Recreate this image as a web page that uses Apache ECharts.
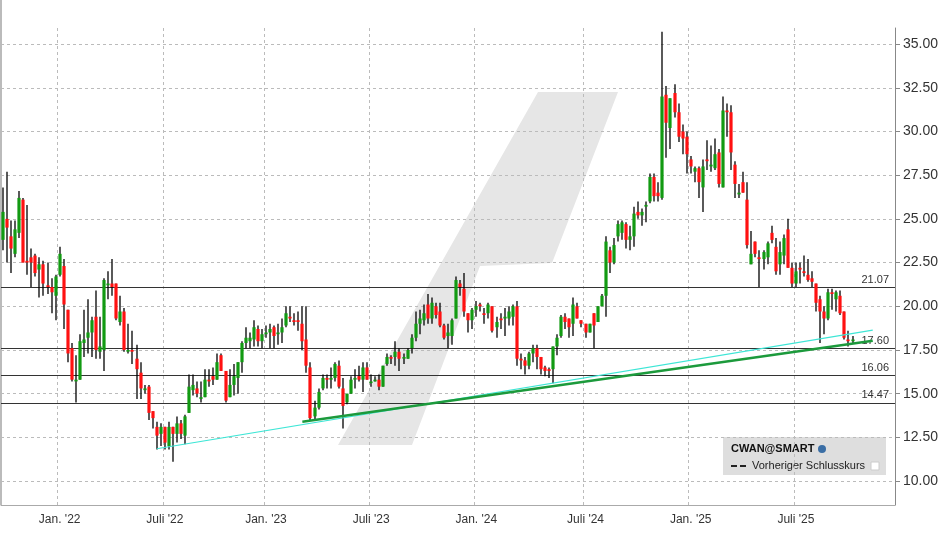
<!DOCTYPE html>
<html><head><meta charset="utf-8">
<script src="https://cdn.jsdelivr.net/npm/echarts@6/dist/echarts.min.js"></script>
<style>html,body{margin:0;padding:0;background:#fff}#c{width:948px;height:534px}</style>
</head><body><div id="c"></div>
<script>
// weekly candles: [open, close, high, low]
const candles = [
[23.8,25.4,26.8,23.2],[25.0,24.5,27.7,22.5],[24.0,23.3,24.9,21.9],[23.0,24.4,24.9,22.8],[24.2,26.2,26.6,23.9],
[26.1,22.5,26.2,22.5],[22.6,22.5,25.8,21.8],[22.8,22.5,23.3,21.1],[22.9,21.9,23.0,21.7],[22.1,22.4,22.8,20.5],
[22.4,21.3,22.6,20.6],[21.2,21.1,22.5,20.7],[21.1,20.8,21.6,19.6],[20.6,21.7,21.8,19.2],[21.8,23.0,23.4,21.7],
[22.3,20.1,22.7,18.7],[19.8,17.3,19.8,16.8],[17.6,15.8,17.9,15.7],[15.7,15.8,17.2,14.5],[15.8,18.0,18.4,15.8],
[17.9,18.1,19.8,17.1],[18.2,18.5,20.4,17.3],[18.5,19.2,19.4,17.1],[19.4,17.5,20.9,17.0],[17.4,17.7,19.4,17.0],
[17.5,21.5,21.6,16.3],[21.2,21.3,22.0,20.4],[21.3,21.1,22.7,20.6],[21.3,19.3,21.3,19.2],[19.1,19.7,20.6,18.9],
[19.7,17.5,19.9,17.4],[17.4,17.5,19.0,17.3],[17.5,17.4,18.6,16.7],[17.0,16.4,17.8,14.7],[16.2,15.3,16.8,14.7],
[15.2,15.3,15.5,15.0],[15.4,13.9,15.5,13.5],[14.0,13.6,14.0,13.0],[13.1,12.6,13.4,11.8],[12.7,13.1,13.3,12.0],
[13.1,12.2,13.1,11.8],[12.0,13.1,13.4,11.8],[13.1,12.7,13.1,11.1],[12.7,13.3,13.7,12.2],[13.3,12.7,13.5,12.4],
[12.6,13.7,13.8,12.1],[13.9,15.4,16.1,13.9],[15.2,15.5,16.1,14.9],[15.3,15.0,15.7,14.8],[14.7,14.8,15.7,14.5],
[14.8,15.8,16.4,14.8],[15.8,15.7,16.4,15.4],[16.0,15.8,16.5,15.5],[15.8,16.8,17.3,15.8],[17.2,16.3,17.3,16.3],
[16.3,14.6,16.3,14.5],[14.8,15.5,16.4,14.8],[15.5,16.0,16.7,14.9],[15.9,16.8,16.8,15.0],[16.8,17.9,18.0,16.2],
[17.9,18.2,18.8,17.6],[18.0,18.2,18.5,17.6],[18.1,18.8,19.2,17.7],[18.7,18.0,18.9,17.7],[18.0,18.4,18.7,17.6],
[18.4,18.5,18.9,18.2],[18.5,18.7,19.0,17.6],[18.8,18.3,18.9,17.6],[18.4,18.5,19.0,17.8],[18.5,18.8,19.3,17.9],
[18.9,19.6,20.0,18.8],[19.4,19.3,20.0,19.1],[19.2,19.1,19.6,18.9],[19.2,19.1,19.7,18.6],[19.0,18.0,20.0,17.5],
[18.1,16.6,20.0,16.2],[16.5,13.6,16.8,13.5],[13.7,14.2,14.6,13.5],[14.2,15.1,15.3,14.1],[15.3,15.9,16.1,15.2],
[15.9,15.8,16.1,15.3],[15.8,15.9,16.5,15.3],[15.9,16.7,16.8,15.7],[16.6,15.4,16.9,15.3],[15.3,14.3,15.9,13.0],
[14.5,15.0,15.0,14.4],[15.0,15.8,16.0,15.0],[15.8,15.9,16.4,15.3],[16.0,15.8,16.6,15.7],[15.8,16.5,16.8,15.1],
[16.5,15.8,16.8,15.8],[15.6,15.7,16.1,15.4],[15.7,15.8,16.0,15.7],[15.8,15.4,16.1,15.2],[15.4,16.6,16.6,15.4],
[16.7,17.1,17.3,16.6],[17.1,17.0,17.2,16.7],[17.1,17.4,18.0,16.6],[17.4,17.0,17.6,16.3],[17.0,17.1,17.3,16.7],
[17.0,17.5,17.6,17.0],[17.6,18.2,18.4,17.3],[18.2,19.0,19.7,18.0],[19.0,19.3,19.8,18.4],[19.2,19.6,20.1,18.9],
[20.1,19.3,20.7,19.0],[19.3,20.2,20.5,19.0],[20.0,19.5,20.2,19.3],[19.7,18.9,20.2,18.8],[18.9,18.2,19.0,18.1],
[18.3,18.5,19.0,17.6],[18.3,19.2,19.3,17.8],[19.3,21.5,21.7,19.3],[21.3,21.1,21.5,20.6],[21.0,19.7,21.9,19.4],
[19.6,19.2,19.6,18.5],[19.2,19.8,19.9,18.7],[19.8,20.0,20.3,19.4],[20.1,20.0,20.2,19.7],[19.6,19.5,19.9,19.0],
[19.6,20.1,20.2,19.3],[20.0,18.6,20.0,18.5],[18.8,19.1,19.4,18.2],[19.3,19.2,19.6,18.7],[19.3,19.4,19.9,18.3],
[19.3,19.7,20.0,18.9],[19.4,20.0,20.1,18.9],[20.0,17.0,20.3,16.6],[17.0,16.9,17.3,16.4],[16.9,16.6,17.1,16.1],
[16.6,17.3,17.4,16.4],[17.3,17.6,17.8,16.8],[17.6,17.1,17.8,16.4],[17.1,16.4,17.1,16.1],[16.5,16.3,16.6,16.0],
[16.4,16.3,16.5,15.9],[16.4,17.7,17.7,15.6],[17.7,18.2,18.4,17.2],[18.3,19.4,19.5,18.2],[19.4,19.1,19.6,18.7],
[19.3,18.8,19.3,18.2],[19.0,20.1,20.5,18.3],[20.0,19.3,20.2,19.3],[19.2,19.0,19.2,18.8],[19.0,18.5,19.0,18.2],
[18.5,19.0,19.0,18.5],[19.6,18.9,19.6,17.6],[19.1,20.0,20.0,19.1],[20.0,20.6,20.7,20.0],[20.6,23.7,24.0,19.4],
[23.2,22.5,23.4,21.9],[22.5,23.5,23.9,22.4],[24.0,24.7,24.9,23.7],[24.2,24.8,24.9,23.8],[24.7,23.8,24.8,23.3],
[23.8,24.0,24.6,23.2],[24.0,25.3,25.7,23.4],[25.4,25.2,26.0,25.0],[25.2,25.4,25.6,24.6],[25.7,25.8,26.0,24.8],
[26.0,27.4,27.6,25.9],[27.4,26.3,27.6,26.0],[26.5,26.3,27.1,26.0],[26.2,32.0,35.7,26.1],[32.1,30.5,32.6,28.5],
[30.2,31.9,31.9,29.0],[32.2,31.1,32.7,30.8],[31.1,29.7,31.6,29.4],[30.0,29.6,30.4,28.7],[29.7,28.7,30.0,27.6],
[28.4,28.0,28.6,27.6],[27.7,27.9,28.0,27.1],[27.9,27.1,28.0,26.2],[26.8,28.0,28.4,25.4],[28.4,28.3,29.5,27.8],
[28.0,28.1,29.2,27.7],[27.9,28.7,29.6,27.8],[28.8,27.0,29.0,26.8],[26.8,31.2,32.0,26.8],[31.2,31.1,31.6,29.7],
[31.1,28.8,31.5,27.8],[28.1,27.0,28.3,26.2],[26.4,26.5,27.0,26.2],[27.1,26.5,27.7,26.5],[26.1,23.5,27.1,23.3],
[22.4,23.0,24.3,22.4],[23.7,23.0,23.7,22.8],[22.8,22.7,23.2,21.1],[22.7,23.1,23.2,22.1],[22.8,23.6,23.7,22.4],
[24.2,23.8,24.6,23.6],[23.4,22.0,23.9,21.8],[22.4,23.1,23.7,21.8],[22.9,23.9,24.1,22.4],[24.4,22.2,25.0,22.3],
[22.2,21.3,22.5,21.1],[21.3,22.0,22.5,21.1],[22.2,22.1,22.5,21.3],[22.0,21.9,22.9,21.7],[21.8,21.5,22.7,21.4],
[21.6,21.4,22.0,21.1],[21.3,20.2,21.3,19.7],[20.4,19.7,20.6,17.9],[19.7,19.3,20.0,18.4],[19.3,20.8,21.0,19.2],
[20.8,20.7,21.0,19.8],[20.4,20.8,20.9,19.7],[20.6,19.6,20.9,19.5],[19.7,18.2,19.7,18.1],[18.1,18.0,18.6,17.7],
[18.0,18.1,18.3,17.9]
];
const emptyWeeks = 10;
const tickIdx = [14,40,65,91,117,144,170,196];
const tickLabels = ["Jan. '22","Juli '22","Jan. '23","Juli '23","Jan. '24","Juli '24","Jan. '25","Juli '25"];
const yTicks = [10,12.5,15,17.5,20,22.5,25,27.5,30,32.5,35];
const levels = [21.07,17.60,16.06,14.47];
const cyanLine = [[37.8,11.85],[215,18.64]];
const greenLine = [[73.7,13.39],[215,18.03]];

const n = candles.length + emptyWeeks;
const cats = []; for (let i=0;i<n;i++) cats.push(String(i));
const data = candles.map((c,i)=>[i,c[0],c[1],c[3],c[2]]);

const chart = echarts.init(document.getElementById('c'));
chart.setOption({
  animation:false,
  grid:{left:1,right:53,top:28,bottom:29},
  xAxis:{type:'category',data:cats,boundaryGap:true,
    axisLine:{show:true,lineStyle:{color:'#aaa'}},axisTick:{show:false},
    axisLabel:{interval:(i)=>tickIdx.includes(i),formatter:(v,i)=>tickLabels[tickIdx.indexOf(Number(v))]||'',color:'#333',fontSize:12,fontFamily:'Liberation Sans',margin:9},
    splitLine:{show:true,interval:(i)=>tickIdx.includes(i),lineStyle:{color:'#bbb',type:[3,3],width:1}}},
  yAxis:{type:'value',position:'right',min:8.63,max:35.92,
    axisLine:{show:true,lineStyle:{color:'#888'}},
    axisTick:{show:true,customValues:yTicks,length:5,lineStyle:{color:'#888'}},
    axisLabel:{customValues:yTicks,formatter:v=>v.toFixed(2),color:'#333',fontSize:14,fontFamily:'Liberation Sans',margin:8},
    splitLine:{show:false}},
  graphic:[
    {type:'polygon',z:0,silent:true,shape:{points:[[338,445],[412,445],[480,266],[552,263],[618,92],[538,92]],smooth:0},style:{fill:'#e6e6e6'}},
    {type:'line',z:0,shape:{x1:1,y1:0,x2:1,y2:505},style:{stroke:'#bbb',lineWidth:2}},
    {type:'group',z:100,children:[
      {type:'rect',shape:{x:723,y:437,width:163,height:38},style:{fill:'#dedede'}},
      {type:'text',style:{x:731,y:443,text:'CWAN@SMART',font:'bold 11px "Liberation Sans"',fill:'#111'}},
      {type:'circle',shape:{cx:822,cy:449,r:4},style:{fill:'#3a6ea5'}},
      {type:'line',shape:{x1:731,y1:466,x2:737,y2:466},style:{stroke:'#222',lineWidth:2}},
      {type:'line',shape:{x1:740,y1:466,x2:746,y2:466},style:{stroke:'#222',lineWidth:2}},
      {type:'text',style:{x:752,y:460,text:'Vorheriger Schlusskurs',font:'11px "Liberation Sans"',fill:'#222'}},
      {type:'rect',shape:{x:871,y:462,width:8,height:8},style:{fill:'#fff',stroke:'#ccc'}}
    ]}
  ],
  series:[
    {type:'line',data:[],z:1,silent:true,
      markLine:{symbol:'none',silent:true,label:{show:false},lineStyle:{color:'#bbb',type:[3,3],width:1},
        data:yTicks.map(v=>({yAxis:v}))}},
    {type:'line',data:[],z:2,silent:true,
      markLine:{symbol:'none',silent:true,lineStyle:{color:'#333',type:'solid',width:1},
        label:{position:'insideEndTop',formatter:p=>p.value.toFixed(2),color:'#333',fontSize:11,fontFamily:'Liberation Sans',distance:[6,2]},
        data:levels.map(v=>({yAxis:v}))}},
    {type:'custom',z:5,data:data,encode:{x:0,y:[1,2,3,4]},
      renderItem:(params,api)=>{
        const i=api.value(0),o=api.value(1),c=api.value(2),l=api.value(3),h=api.value(4);
        const pl=api.coord([i,Math.min(l,o,c)]),ph=api.coord([i,Math.max(h,o,c)]);
        const po=api.coord([i,o]),pc=api.coord([i,c]);
        const top=Math.min(po[1],pc[1]),ht=Math.max(Math.abs(po[1]-pc[1]),1.5);
        const x=Math.round(pl[0]);
        return {type:'group',children:[
          {type:'line',shape:{x1:x,y1:ph[1],x2:x,y2:pl[1]},style:{stroke:'#000',lineWidth:1.3}},
          {type:'rect',shape:{x:x-1.6,y:top,width:3.2,height:ht},style:{fill:c>=o?'#129a12':'#ff1111'}}
        ]};
      }},
    {type:'line',data:cyanLine,z:6,symbol:'none',lineStyle:{color:'#3ee6d6',width:1.2}},
    {type:'line',data:greenLine,z:6,symbol:'none',lineStyle:{color:'#1c9a3c',width:2.5}}
  ]
});
</script></body></html>
